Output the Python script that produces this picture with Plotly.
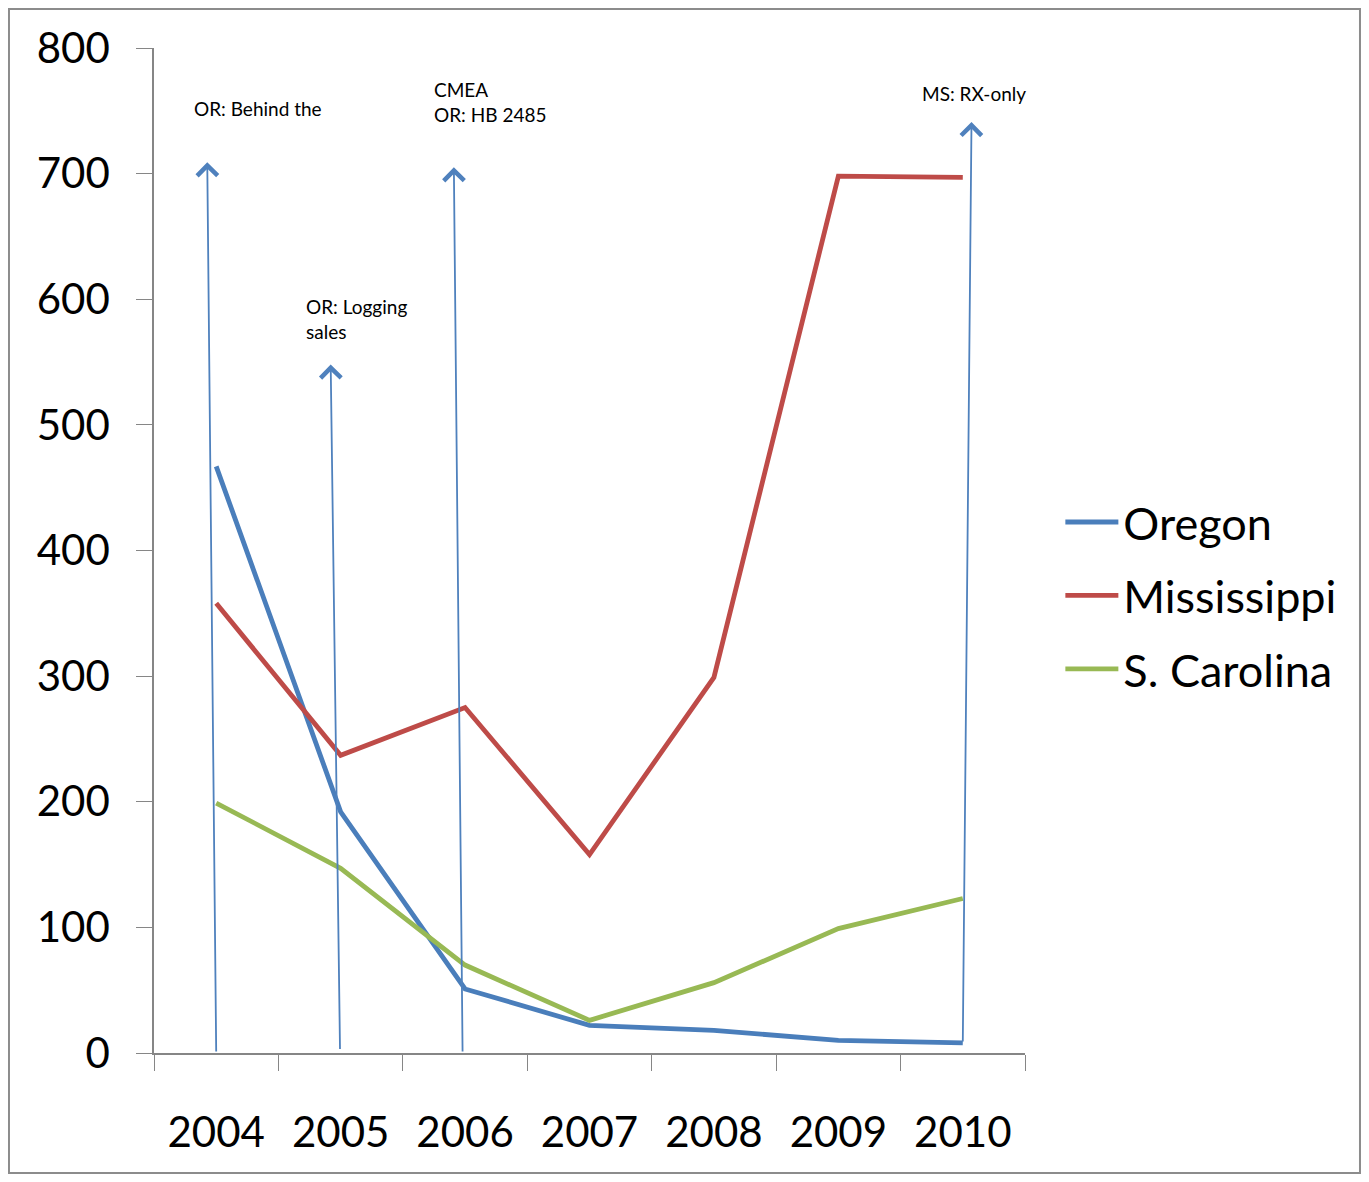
import plotly.graph_objects as go

years = ["2004", "2005", "2006", "2007", "2008", "2009", "2010"]
oregon = [467, 192, 51, 22, 18, 10, 8]
mississippi = [358, 237, 275, 158, 299, 698, 697]
s_carolina = [199, 147, 70, 26, 56, 99, 123]

series_names = ["Oregon", "Mississippi", "S. Carolina"]
series_colors = ["#4A7EBB", "#BE4B48", "#98B954"]

# policy event arrows (category-index positions)
event_base_x = [0.0, 0.995, 1.98, 6.0]
event_base_y = [0, 2, 0, 8]
event_tip_x = [-0.072, 0.92, 1.91, 6.07]
event_tip_y = [709, 548, 705, 741]
event_text = ["OR: Behind the", "OR: Logging<br>sales", "CMEA<br>OR: HB 2485", "MS: RX-only"]
event_text_x = [-0.193, 0.703, 1.735, 5.654]
event_text_y = [752, 584, 757, 764]

FONT = "Lato"
fig = go.Figure()
for name, vals, col in zip(series_names, [oregon, mississippi, s_carolina], series_colors):
    fig.add_trace(go.Scatter(x=years, y=vals, mode="lines", name=name,
                             legendgroup=name,
                             line=dict(color=col, width=4.8)))

annotations = []
for bx, by, tx, ty in zip(event_base_x, event_base_y, event_tip_x, event_tip_y):
    annotations.append(dict(x=tx, y=ty, ax=bx, ay=by, xref="x", yref="y",
                            axref="x", ayref="y", showarrow=True, arrowhead=4,
                            arrowsize=2.2, arrowwidth=1.8, arrowcolor="#4F81BD",
                            text=""))
for t, x, y in zip(event_text, event_text_x, event_text_y):
    annotations.append(dict(x=x, y=y, xref="x", yref="y", text=t, showarrow=False,
                            xanchor="left", yanchor="middle", align="left",
                            font=dict(family=FONT, size=19, color="#000000")))

fig.update_layout(
    width=1353, height=1166,
    margin=dict(l=146, r=336, t=40, b=121),
    paper_bgcolor="white", plot_bgcolor="white",
    font=dict(family=FONT, color="#000000"),
    showlegend=True,
    legend=dict(x=1.0406, y=0.455, xanchor="left", yanchor="middle",
                font=dict(family=FONT, size=45, color="#000000"),
                itemwidth=53,
                bgcolor="rgba(0,0,0,0)", tracegroupgap=12, traceorder="grouped"),
    annotations=annotations,
    shapes=[dict(type="rect", xref="paper", yref="paper",
                 x0=-0.1665, x1=1.3846, y0=-0.1194, y1=1.0388,
                 line=dict(color="#8C8C8C", width=2), layer="below")],
)
fig.update_xaxes(type="category", range=[-0.5, 6.5], tickson="boundaries",
                 ticks="outside", ticklen=16, tickcolor="#868686", tickwidth=1,
                 showline=True, linecolor="#868686", linewidth=1.5,
                 showgrid=False, zeroline=False,
                 tickfont=dict(family=FONT, size=42, color="#000000"),
                 ticklabelstandoff=42)
fig.update_yaxes(range=[0, 800], dtick=100, ticks="outside", ticklen=16,
                 tickcolor="#868686", tickwidth=1, showline=True,
                 linecolor="#868686", linewidth=1.5, showgrid=False,
                 zeroline=False,
                 tickfont=dict(family=FONT, size=42, color="#000000"),
                 ticklabelstandoff=18)

fig.write_html("out.html")
